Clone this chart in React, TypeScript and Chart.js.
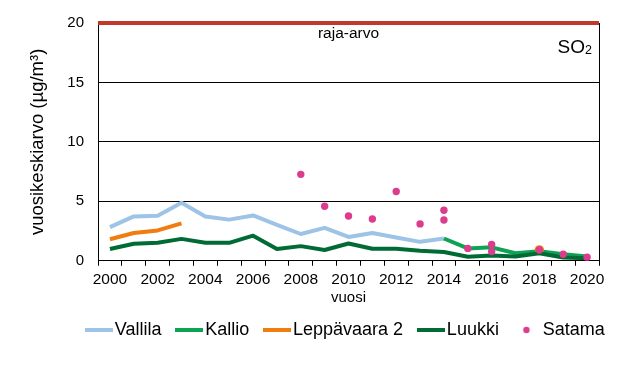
import React, { useEffect, useRef } from 'react';
import { Chart, registerables } from 'chart.js';

Chart.register(...registerables);

// ---------- data ----------
const YEARS = ['2000','2001','2002','2003','2004','2005','2006','2007','2008','2009','2010','2011','2012','2013','2014','2015','2016','2017','2018','2019','2020'];
const X_TICK_LABELS = ['2000','2002','2004','2006','2008','2010','2012','2014','2016','2018','2020'];
const Y_TICKS = [0, 5, 10, 15, 20];

const VALLILA = [2.83, 3.73, 3.79, 4.88, 3.73, 3.46, 3.81, 3.02, 2.25, 2.77, 2.0, 2.33, 1.95, 1.59, 1.87, null, null, null, null, null, null];
const KALLIO = [null, null, null, null, null, null, null, null, null, null, null, null, null, null, 1.87, 1.04, 1.13, 0.63, 0.8, 0.55, 0.35];
const LEPPAVAARA = [1.81, 2.33, 2.55, 3.15, null, null, null, null, null, null, null, null, null, null, null, null, null, null, 0.92, null, null];
const LUUKKI = [0.99, 1.43, 1.51, 1.84, 1.51, 1.51, 2.11, 0.99, 1.23, 0.9, 1.45, 1.01, 1.01, 0.85, 0.74, 0.33, 0.44, 0.35, 0.63, 0.27, 0.22];
const SATAMA_YEARS = ['2008','2009','2010','2011','2012','2013','2014','2014','2015','2016','2016','2018','2019','2020'];
const SATAMA_VALUES = [7.27, 4.58, 3.76, 3.51, 5.82, 3.1, 4.25, 3.43, 1.04, 1.37, 0.77, 0.9, 0.55, 0.3];

const LIMIT = 20;
const LIMIT_LABEL = 'raja-arvo';
const SERIES_NAMES = ['Vallila', 'Kallio', 'Leppävaara 2', 'Luukki', 'Satama'];
const COLORS = ['#9dc3e6', '#0ea352', '#ef7d0f', '#006b35', '#dd3b8d'];
const LIMIT_COLOR = '#c0392b';
const FONT = "'Liberation Sans', Arial, sans-serif";

function makeLineSwatch(color: string) {
  const c = document.createElement('canvas');
  c.width = 28; c.height = 4;
  const g = c.getContext('2d')!;
  g.fillStyle = color;
  g.fillRect(0, 0, 28, 4);
  return c;
}
function makeDotSwatch(color: string) {
  const c = document.createElement('canvas');
  c.width = 28; c.height = 8;
  const g = c.getContext('2d')!;
  g.fillStyle = color;
  g.beginPath();
  g.arc(14, 4, 3.2, 0, Math.PI * 2);
  g.fill();
  return c;
}

const annotations = {
  id: 'annotations',
  afterLayout(chart: any) {
    const lg = chart.legend;
    if (lg) {
      const dx = 26.5, dy = -6;
      lg.left += dx; lg.right += dx; lg.top += dy; lg.bottom += dy;
    }
  },
  afterDatasetsDraw(chart: any) {
    const { ctx, chartArea, scales } = chart;
    const y = scales.y.getPixelForValue(LIMIT);
    ctx.save();
    ctx.strokeStyle = LIMIT_COLOR;
    ctx.lineWidth = 4;
    ctx.beginPath();
    ctx.moveTo(chartArea.left, y);
    ctx.lineTo(chartArea.right, y);
    ctx.stroke();

    ctx.fillStyle = '#000';
    ctx.textBaseline = 'alphabetic';
    ctx.textAlign = 'center';
    ctx.font = `15.5px ${FONT}`;
    ctx.fillText(LIMIT_LABEL, (chartArea.left + chartArea.right) / 2, y + 15);

    // SO2 label
    ctx.font = `12.5px ${FONT}`;
    const subW = ctx.measureText('2').width;
    const rightX = chartArea.right - 7;
    ctx.textAlign = 'right';
    ctx.fillText('2', rightX, y + 31);
    ctx.font = `19px ${FONT}`;
    ctx.fillText('SO', rightX - subW, y + 29.5);
    ctx.restore();
  },
};

export default function App() {
  const ref = useRef<HTMLCanvasElement | null>(null);

  useEffect(() => {
    if (!ref.current) return;
    Chart.defaults.font.family = FONT;
    Chart.defaults.color = '#000';
    const swatches = [
      makeLineSwatch(COLORS[0]),
      makeLineSwatch(COLORS[1]),
      makeLineSwatch(COLORS[2]),
      makeLineSwatch(COLORS[3]),
      makeDotSwatch(COLORS[4]),
    ];
    const lineDs = (i: number, data: (number | null)[], order: number) => ({
      type: 'line' as const,
      label: SERIES_NAMES[i],
      data,
      borderColor: COLORS[i],
      backgroundColor: COLORS[i],
      borderWidth: 4,
      borderJoinStyle: 'round' as const,
      tension: 0,
      spanGaps: false,
      pointRadius: (c: any) => {
        const d = c.dataset.data;
        const k = c.dataIndex;
        if (d[k] == null) return 0;
        const prev = k > 0 ? d[k - 1] : null;
        const next = k < d.length - 1 ? d[k + 1] : null;
        return prev == null && next == null ? 4.6 : 0;
      },
      pointHoverRadius: 0,
      pointBorderWidth: 0,
      order,
    });

    const chart = new Chart(ref.current, {
      type: 'line',
      data: {
        labels: YEARS,
        datasets: [
          lineDs(0, VALLILA, 5),
          lineDs(1, KALLIO, 4),
          lineDs(2, LEPPAVAARA, 3),
          lineDs(3, LUUKKI, 2),
          {
            type: 'line',
            label: SERIES_NAMES[4],
            data: SATAMA_YEARS.map((yr, i) => ({ x: yr, y: SATAMA_VALUES[i] })),
            showLine: false,
            borderColor: COLORS[4],
            backgroundColor: COLORS[4],
            pointBackgroundColor: COLORS[4],
            pointBorderWidth: 0,
            pointRadius: 3.7,
            order: 1,
          } as any,
        ],
      },
      options: {
        animation: false,
        responsive: true,
        maintainAspectRatio: false,
        layout: { padding: { top: 19, left: 0, right: 0, bottom: 16 } },
        plugins: {
          tooltip: { enabled: false },
          legend: {
            position: 'bottom',
            labels: {
              usePointStyle: true,
              pointStyleWidth: 14.5,
              padding: 20.25,
              color: '#000',
              font: { size: 18, family: FONT },
              sort: (a: any, b: any) => a.datasetIndex - b.datasetIndex,
              generateLabels: (ch: any) => {
                const items = (Chart.defaults.plugins.legend.labels as any).generateLabels(ch);
                return items.map((it: any) => ({ ...it, pointStyle: swatches[it.datasetIndex] }));
              },
            },
          },
        },
        scales: {
          x: {
            type: 'category',
            offset: true,
            grid: { offset: true, drawOnChartArea: false, drawTicks: true, tickLength: 5, color: '#000', lineWidth: 1 },
            border: { color: '#000', width: 1 },
            ticks: {
              autoSkip: false,
              maxRotation: 0,
              padding: 5,
              color: '#000',
              font: { size: 15.5 },
              callback: (_v: any, i: number) => (X_TICK_LABELS.includes(YEARS[i]) ? YEARS[i] : ''),
            },
            title: { display: true, text: 'vuosi', color: '#000', font: { size: 15 }, padding: { top: 0, bottom: 0 } },
            afterFit: (s: any) => { s.height = 46; },
          },
          y: {
            min: 0,
            max: 20,
            afterBuildTicks: (s: any) => { s.ticks = Y_TICKS.map((v) => ({ value: v })); },
            ticks: { padding: 14, color: '#000', font: { size: 15 } },
            grid: { color: '#000', lineWidth: 1, drawTicks: false },
            border: { color: '#000', width: 1 },
            title: { display: true, text: 'vuosikeskiarvo (µg/m³)', color: '#000', font: { size: 18.5 }, padding: { top: 27, bottom: 0 } },
            afterFit: (s: any) => { s.width = 98; },
          },
          y2: {
            position: 'right',
            min: 0,
            max: 20,
            ticks: { display: false },
            grid: { drawOnChartArea: false, drawTicks: false },
            border: { color: '#000', width: 1 },
            afterFit: (s: any) => { s.width = 44; },
          },
        },
      } as any,
      plugins: [annotations],
    });
    return () => chart.destroy();
  }, []);

  return (
    <div style={{ position: 'absolute', left: 0, top: 0, width: 643, height: 371, background: '#fff' }}>
      <canvas ref={ref} />
    </div>
  );
}
